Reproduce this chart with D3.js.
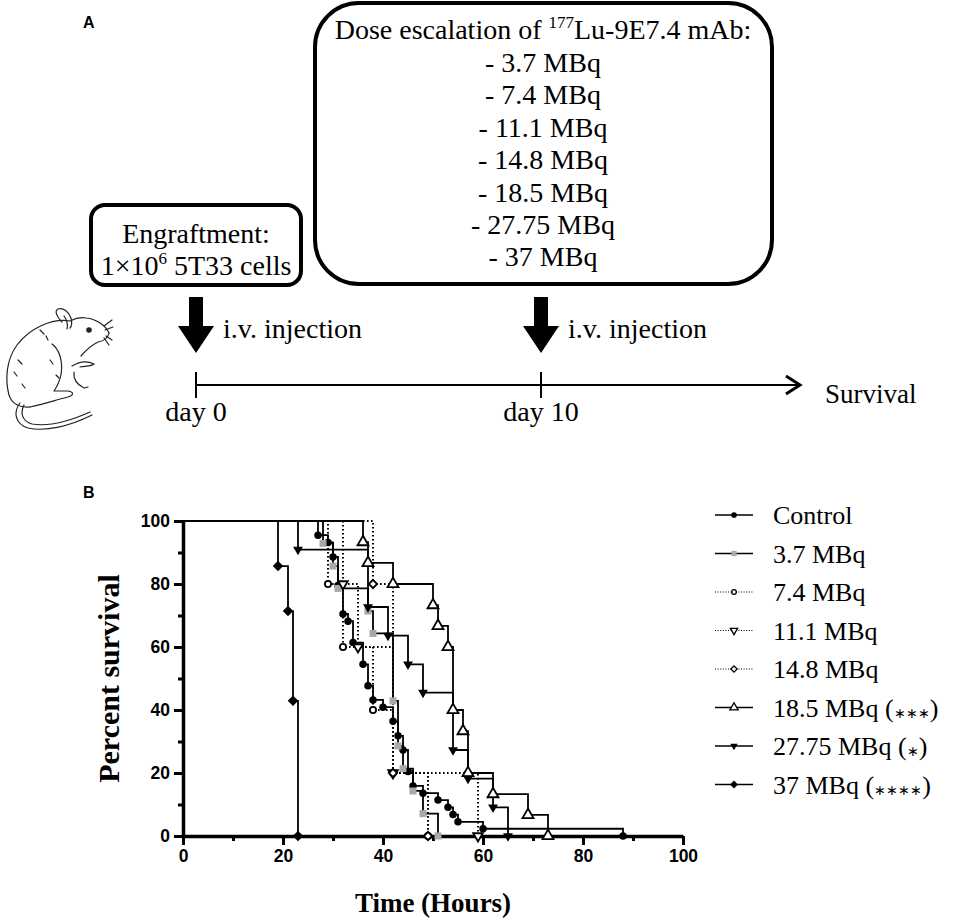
<!DOCTYPE html>
<html lang="en">
<head>
<meta charset="UTF-8">
<title>177Lu-9E7.4 dose escalation</title>
<script src="https://d3js.org/d3.v7.min.js"></script>
<style>
  body { margin: 0; background: #fff; }
</style>
</head>
<body>
<svg id="fig" width="970" height="922"></svg>
<script>
// ---- panel A texts
const doseLines = ["- 3.7 MBq", "- 7.4 MBq", "- 11.1 MBq", "- 14.8 MBq", "- 18.5 MBq", "- 27.75 MBq", "- 37 MBq"];
const timelineDays = [0, 10];

// ---- panel B survival data (hours, percent survival after each drop)
const seriesLabels = ["Control", "3.7 MBq", "7.4 MBq", "11.1 MBq", "14.8 MBq", "18.5 MBq", "27.75 MBq", "37 MBq"];
const seriesStars = ["", "", "", "", "", "***", "*", "****"];

const controlHours = [27, 29, 30, 31, 32, 33, 34, 36, 37, 38, 40, 42, 43, 44, 45, 46, 48, 51, 53, 54, 55, 60, 88];
const controlPct = [95.5, 93.2, 88.6, 79.5, 70.5, 68.2, 61.4, 54.5, 47.7, 43.2, 40.9, 36.4, 31.8, 27.3, 20.5, 15.9, 13.6, 11.4, 9.1, 6.8, 4.5, 2.3, 0];
const dose3_7Hours = [28, 30, 31, 37, 38, 42, 43, 44, 46, 48, 51];
const dose3_7Pct = [92.9, 85.7, 78.6, 71.4, 64.3, 42.9, 28.6, 21.4, 14.3, 7.1, 0];
const dose7_4Hours = [29, 32, 38, 42, 49];
const dose7_4Pct = [80, 60, 40, 20, 0];
const dose11_1Hours = [32, 35, 42, 59];
const dose11_1Pct = [80, 60, 20, 0];
const dose14_8Hours = [38, 42, 49];
const dose14_8Pct = [80, 20, 0];
const dose18_5Hours = [36, 37, 42, 50, 51, 53, 54, 56, 57, 62, 69, 73];
const dose18_5Pct = [93.3, 86.7, 80, 73.3, 66.7, 60, 40, 33.3, 20, 13.3, 6.7, 0];
const dose27_75Hours = [23, 37, 41, 45, 48, 54, 57, 62, 65];
const dose27_75Pct = [90.9, 72.7, 63.6, 54.5, 45.5, 27.3, 18.2, 9.1, 0];
const dose37Hours = [19, 21, 22, 23];
const dose37Pct = [85.7, 71.4, 42.9, 0];

const xMajorTicks = [0, 20, 40, 60, 80, 100];
const xMinorTicks = [10, 30, 50, 70, 90];
const yMajorTicks = [0, 20, 40, 60, 80, 100];
const yMinorTicks = [10, 30, 50, 70, 90];

const series = [
  { hours: controlHours, pct: controlPct, marker: "circle", dotted: false },
  { hours: dose3_7Hours, pct: dose3_7Pct, marker: "square", dotted: false },
  { hours: dose7_4Hours, pct: dose7_4Pct, marker: "openCircle", dotted: true },
  { hours: dose11_1Hours, pct: dose11_1Pct, marker: "openTriDown", dotted: true },
  { hours: dose14_8Hours, pct: dose14_8Pct, marker: "openDiamond", dotted: true },
  { hours: dose18_5Hours, pct: dose18_5Pct, marker: "openTriUp", dotted: false },
  { hours: dose27_75Hours, pct: dose27_75Pct, marker: "triDown", dotted: false },
  { hours: dose37Hours, pct: dose37Pct, marker: "diamond", dotted: false }
].map((s, i) => ({ ...s, label: seriesLabels[i], stars: seriesStars[i] }));

const svg = d3.select("#fig");
const serif = "Liberation Serif, Times New Roman, serif";
const sans = "Liberation Sans, Arial, sans-serif";

// ================= PANEL A =================
const a = svg.append("g");
a.append("text").attr("x", 83).attr("y", 28).attr("font-family", sans)
  .attr("font-weight", "bold").attr("font-size", 16).text("A");

a.append("rect").attr("x", 91).attr("y", 205).attr("width", 210).attr("height", 80)
  .attr("rx", 14).attr("fill", "none").attr("stroke", "#000").attr("stroke-width", 4);
a.append("rect").attr("x", 315).attr("y", 3).attr("width", 457).attr("height", 281)
  .attr("rx", 44).attr("fill", "none").attr("stroke", "#000").attr("stroke-width", 4);

a.append("text").attr("x", 196).attr("y", 243).attr("text-anchor", "middle")
  .attr("font-family", serif).attr("font-size", 28).text("Engraftment:");
const t2 = a.append("text").attr("x", 196).attr("y", 275).attr("text-anchor", "middle")
  .attr("font-family", serif).attr("font-size", 28);
t2.append("tspan").text("1×10");
t2.append("tspan").attr("font-size", 17).attr("dy", -11).text("6");
t2.append("tspan").attr("dy", 11).text(" 5T33 cells");

const head = a.append("text").attr("x", 543).attr("y", 39).attr("text-anchor", "middle")
  .attr("font-family", serif).attr("font-size", 28);
head.append("tspan").text("Dose escalation of ");
head.append("tspan").attr("font-size", 17).attr("dy", -11).text("177");
head.append("tspan").attr("dy", 11).text("Lu-9E7.4 mAb:");

a.selectAll("text.dose").data(doseLines).join("text")
  .attr("class", "dose")
  .attr("x", 543).attr("y", (d, i) => 72 + i * 32.4)
  .attr("text-anchor", "middle").attr("font-family", serif).attr("font-size", 28)
  .text(d => d);

// timeline
const tl = d3.scaleLinear().domain([0, 10]).range([196, 541]);
const lineY = 385;
a.append("line").attr("x1", tl(0)).attr("x2", 800).attr("y1", lineY).attr("y2", lineY)
  .attr("stroke", "#000").attr("stroke-width", 2);
a.append("path").attr("d", `M786,${lineY - 9}L800,${lineY}L786,${lineY + 9}`)
  .attr("fill", "none").attr("stroke", "#000").attr("stroke-width", 3);
a.selectAll("line.dtick").data(timelineDays).join("line").attr("class", "dtick")
  .attr("x1", d => tl(d)).attr("x2", d => tl(d)).attr("y1", lineY - 13).attr("y2", lineY + 13)
  .attr("stroke", "#000").attr("stroke-width", 2);
a.selectAll("path.darrow").data(timelineDays).join("path").attr("class", "darrow")
  .attr("d", d => {
    const c = tl(d);
    return `M${c - 7},297L${c + 7},297L${c + 7},326L${c + 18},326L${c},353L${c - 18},326L${c - 7},326Z`;
  }).attr("fill", "#000");
a.selectAll("text.iv").data(timelineDays).join("text").attr("class", "iv")
  .attr("x", d => tl(d) + 27).attr("y", 338).attr("font-family", serif).attr("font-size", 28)
  .text("i.v. injection");
a.selectAll("text.day").data(timelineDays).join("text").attr("class", "day")
  .attr("x", d => tl(d)).attr("y", 421).attr("text-anchor", "middle")
  .attr("font-family", serif).attr("font-size", 28).text(d => "day " + d);
a.append("text").attr("x", 825).attr("y", 403).attr("font-family", serif)
  .attr("font-size", 27).text("Survival");

// mouse sketch
const mouse = a.append("g").attr("fill", "none").attr("stroke", "#222")
  .attr("stroke-width", 1.2).attr("stroke-linecap", "round").attr("stroke-linejoin", "round");
[
  "M109,333 C106,326 97,319 86,318 C80,317 74,319 70,321 C52,318 30,328 17,345 C6,360 5,380 9,395 C12,404 20,408 30,407",
  "M62,322 C57,317 54,311 58,309 C63,307 69,312 71,318 C72,322 72,326 70,328",
  "M64,316 C67,320 68,325 67,329",
  "M109,333 C108,338 104,341 98,342 C92,345 86,350 81,356",
  "M30,407 C44,404 56,400 68,397 C74,395 74,392 68,391 L54,391 C60,382 64,370 60,356 C58,350 55,346 52,344",
  "M72,366 C80,361 88,361 94,364 C92,366 86,366 80,367",
  "M74,372 C73,380 78,385 84,388 L88,387",
  "M20,403 C13,412 15,424 28,428 C46,432 70,426 92,415",
  "M24,405 C20,413 22,421 32,424 C50,427 70,421 90,412",
  "M104,326 L112,320 M105,330 L113,327 M106,336 L112,340 M104,338 L109,345",
  "M40,330 L44,334 M46,336 L48,340 M18,360 L22,364 M14,372 L17,376 M22,384 L25,388 M50,360 L53,364 M56,375 L59,378"
].forEach(d => mouse.append("path").attr("d", d));
mouse.append("circle").attr("cx", 89).attr("cy", 330).attr("r", 2.2).attr("fill", "#222");

// ================= PANEL B =================
const b = svg.append("g");
b.append("text").attr("x", 83).attr("y", 498).attr("font-family", sans)
  .attr("font-weight", "bold").attr("font-size", 16).text("B");

const x = d3.scaleLinear().domain([0, 100]).range([183, 683]);
const y = d3.scaleLinear().domain([0, 100]).range([836, 521]);

function styleAxis(g) {
  g.select(".domain").attr("stroke-width", 3.5);
  g.selectAll(".tick line").attr("stroke-width", 3);
  g.selectAll(".tick text").attr("font-family", sans).attr("font-weight", "bold")
    .attr("font-size", 17.5).attr("fill", "#000");
}

b.append("g").attr("transform", `translate(0,${y(0)})`)
  .call(d3.axisBottom(x).tickValues(xMinorTicks).tickSize(5).tickSizeOuter(0).tickFormat(""))
  .call(g => g.select(".domain").remove())
  .call(styleAxis);
b.append("g").attr("transform", `translate(0,${y(0)})`)
  .call(d3.axisBottom(x).tickValues(xMajorTicks).tickSize(9).tickSizeOuter(0).tickPadding(5))
  .call(styleAxis);
b.append("g").attr("transform", `translate(${x(0)},0)`)
  .call(d3.axisLeft(y).tickValues(yMinorTicks).tickSize(5).tickSizeOuter(0).tickFormat(""))
  .call(g => g.select(".domain").remove())
  .call(styleAxis);
b.append("g").attr("transform", `translate(${x(0)},0)`)
  .call(d3.axisLeft(y).tickValues(yMajorTicks).tickSize(9).tickSizeOuter(0).tickPadding(4))
  .call(styleAxis);

b.append("text").attr("transform", `translate(119,${(y(0) + y(100)) / 2}) rotate(-90)`)
  .attr("text-anchor", "middle").attr("font-family", serif).attr("font-weight", "bold")
  .attr("font-size", 30).text("Percent survival");
b.append("text").attr("x", (x(0) + x(100)) / 2).attr("y", 912).attr("text-anchor", "middle")
  .attr("font-family", serif).attr("font-weight", "bold").attr("font-size", 27).text("Time (Hours)");

// markers
const markerStyle = {
  circle: { sym: d3.symbolCircle, size: 44, rot: 0, fill: "#000", stroke: "none" },
  square: { sym: d3.symbolSquare, size: 49, rot: 0, fill: "#a8a8a8", stroke: "none" },
  openCircle: { sym: d3.symbolCircle, size: 30, rot: 0, fill: "#fff", stroke: "#000" },
  openTriDown: { sym: d3.symbolTriangle, size: 40, rot: 180, fill: "#fff", stroke: "#000" },
  openDiamond: { sym: d3.symbolSquare, size: 34, rot: 45, fill: "#fff", stroke: "#000" },
  openTriUp: { sym: d3.symbolTriangle, size: 52, rot: 0, fill: "#fff", stroke: "#000" },
  triDown: { sym: d3.symbolTriangle, size: 42, rot: 180, fill: "#000", stroke: "none" },
  diamond: { sym: d3.symbolSquare, size: 55, rot: 45, fill: "#000", stroke: "none" }
};

function drawMarker(g, kind, cx, cy, scale) {
  const m = markerStyle[kind];
  g.append("path")
    .attr("d", d3.symbol(m.sym, m.size * scale * scale)())
    .attr("transform", `translate(${cx},${cy}) rotate(${m.rot})`)
    .attr("fill", m.fill).attr("stroke", m.stroke).attr("stroke-width", 1.8 * scale);
}

const step = d3.line().x(d => x(d[0])).y(d => y(d[1])).curve(d3.curveStepAfter);
const plot = b.append("g");

series.forEach(s => {
  const pts = [[0, 100]].concat(s.hours.map((h, i) => [h, s.pct[i]]));
  plot.append("path").attr("d", step(pts)).attr("fill", "none").attr("stroke", "#000")
    .attr("stroke-width", s.dotted ? 2 : 1.8)
    .attr("stroke-dasharray", s.dotted ? "1.6,2.4" : null);
});
series.forEach(s => {
  const g = plot.append("g");
  s.hours.forEach((h, i) => drawMarker(g, s.marker, x(h), y(s.pct[i]), 1));
});

// legend
const legY = d3.scalePoint().domain(seriesLabels).range([515, 784.5]);
const leg = b.append("g");
series.forEach(s => {
  const ly = legY(s.label);
  leg.append("line").attr("x1", 715).attr("x2", 753).attr("y1", ly).attr("y2", ly)
    .attr("stroke", "#000").attr("stroke-width", s.dotted ? 1.2 : 1.6)
    .attr("stroke-dasharray", s.dotted ? "1,1.6" : null);
  drawMarker(leg, s.marker, 734, ly, 0.75);
  const t = leg.append("text").attr("x", 773).attr("y", ly + 9)
    .attr("font-family", serif).attr("font-size", 26).text(s.label);
  if (s.stars) {
    t.append("tspan").text(" (");
    t.append("tspan").attr("font-size", 14).attr("dy", 1).text(s.stars.replace(/\*/g, "\u2217"));
    t.append("tspan").attr("dy", -1).text(")");
  }
});
</script>
</body>
</html>
